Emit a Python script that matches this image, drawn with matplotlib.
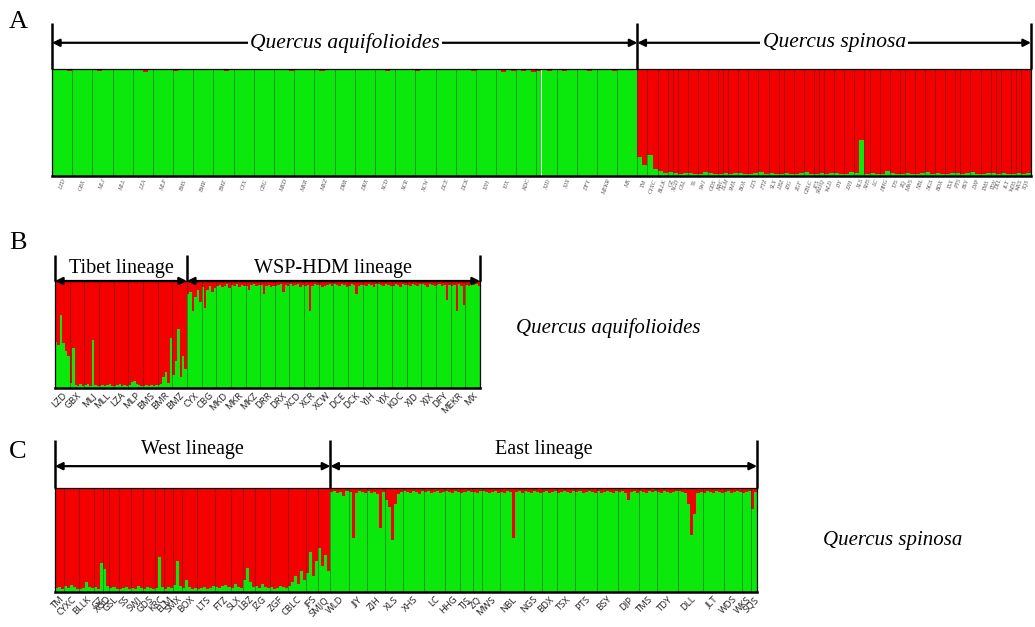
import matplotlib

matplotlib.use("Agg")
import matplotlib.pyplot as plt
import numpy as np

GREEN = "#0be80b"
RED = "#f40000"
SERIF = "Liberation Serif"

# ---- panel B: Quercus aquifolioides, red fraction (top) per individual ----
B_POPS = ["LZD", "GBX", "MLJ", "MLL", "LZA", "MLP", "BMS", "BMR", "BMZ",
          "CYX", "CBG", "MKD", "MKR", "MKZ", "DRR", "DRX", "XCD", "XCR", "XCW",
          "DCE", "DCK", "YJH", "YJX", "KDC", "XJD", "XJX", "DFY", "MEKR", "MX"]
B_GROUPS = ["Tibet lineage", "WSP-HDM lineage"]
B_GROUP_SIZES = [9, 20]
B_RED = [
    [0.57, 0.60, 0.32, 0.58, 0.65, 0.70],
    [0.95, 0.63, 0.97, 0.98, 0.96, 0.98],
    [0.97, 0.96, 0.98, 0.55, 0.97, 0.98],
    [0.98, 0.97, 0.98, 0.97, 0.96, 0.98],
    [0.98, 0.97, 0.96, 0.98, 0.97, 0.98],
    [0.97, 0.94, 0.93, 0.96, 0.97, 0.98],
    [0.98, 0.97, 0.98, 0.97, 0.98, 0.97],
    [0.97, 0.96, 0.90, 0.85, 0.95, 0.53],
    [0.88, 0.75, 0.45, 0.90, 0.70, 0.82],
    [0.12, 0.10, 0.28, 0.15, 0.08, 0.20],
    [0.06, 0.25, 0.08, 0.05, 0.10, 0.07],
    [0.05, 0.04, 0.06, 0.05, 0.03, 0.07],
    [0.04, 0.05, 0.03, 0.06, 0.04, 0.05],
    [0.05, 0.08, 0.04, 0.03, 0.05, 0.04],
    [0.04, 0.12, 0.05, 0.04, 0.06, 0.05],
    [0.05, 0.04, 0.03, 0.10, 0.04, 0.05],
    [0.03, 0.05, 0.04, 0.03, 0.06, 0.04],
    [0.05, 0.04, 0.28, 0.05, 0.03, 0.04],
    [0.04, 0.06, 0.05, 0.04, 0.03, 0.05],
    [0.03, 0.04, 0.05, 0.03, 0.04, 0.06],
    [0.05, 0.03, 0.04, 0.12, 0.05, 0.04],
    [0.04, 0.05, 0.03, 0.04, 0.06, 0.03],
    [0.03, 0.04, 0.05, 0.03, 0.04, 0.05],
    [0.05, 0.03, 0.04, 0.06, 0.03, 0.04],
    [0.04, 0.05, 0.03, 0.04, 0.05, 0.03],
    [0.03, 0.04, 0.06, 0.03, 0.04, 0.05],
    [0.04, 0.03, 0.05, 0.04, 0.18, 0.04],
    [0.05, 0.04, 0.28, 0.03, 0.05, 0.22],
    [0.04, 0.05, 0.03, 0.04, 0.03, 0.05],
]

# ---- panel C: Quercus spinosa ----
C_POPS = ["TM", "CYXC", "BLLK", "GZ", "XGD", "GSL", "SS", "SWJ", "GDS", "KRC",
          "ELM", "SMX", "BOX", "LTS", "FTZ", "SLX", "LBZ", "JZG", "ZGF", "CBLC",
          "JFS", "SMJQ",
          "WLD", "JJY", "ZJH", "XLS", "XHS", "LC", "HHG", "TJS", "ZQ", "MWS",
          "NBL", "NGS", "BDX", "TSX", "PTS", "BSY", "DJP", "TMS", "TDY", "DLL",
          "JLT", "WDS", "WKS", "SQS"]
C_GROUPS = ["West lineage", "East lineage"]
C_GROUP_SIZES = [22, 24]
C_RED = [
    [0.96, 0.95, 0.97],
    [0.94, 0.96, 0.93, 0.95, 0.97],
    [0.97, 0.96, 0.90, 0.95, 0.96],
    [0.95, 0.97, 0.72],
    [0.78, 0.94],
    [0.96, 0.95, 0.97],
    [0.97, 0.96, 0.95, 0.97],
    [0.96, 0.97, 0.94, 0.96],
    [0.97, 0.95, 0.96, 0.97],
    [0.96, 0.66, 0.95],
    [0.97, 0.95, 0.96],
    [0.93, 0.70, 0.94],
    [0.96, 0.88, 0.95, 0.97, 0.96],
    [0.97, 0.96, 0.95, 0.97, 0.96, 0.94],
    [0.95, 0.96, 0.94, 0.93, 0.95],
    [0.96, 0.92, 0.95, 0.96],
    [0.88, 0.77, 0.90, 0.95],
    [0.94, 0.96, 0.92, 0.95, 0.96],
    [0.95, 0.97, 0.96, 0.94, 0.95, 0.96],
    [0.94, 0.90, 0.85, 0.92, 0.80, 0.88],
    [0.82, 0.62, 0.85, 0.70],
    [0.58, 0.75, 0.64, 0.80],
    [0.04, 0.03, 0.05, 0.04, 0.08, 0.03],
    [0.04, 0.48, 0.05, 0.03, 0.04, 0.05],
    [0.03, 0.05, 0.04, 0.06, 0.38, 0.04],
    [0.12, 0.18, 0.50, 0.15, 0.06, 0.04],
    [0.03, 0.04, 0.05, 0.03, 0.04, 0.06, 0.03],
    [0.04, 0.03, 0.05, 0.04, 0.03, 0.05, 0.04],
    [0.03, 0.04, 0.05, 0.03, 0.04],
    [0.05, 0.04, 0.03, 0.04],
    [0.04, 0.05, 0.03],
    [0.03, 0.04, 0.05, 0.04, 0.03, 0.05],
    [0.04, 0.05, 0.03, 0.04, 0.48, 0.04, 0.03, 0.05],
    [0.03, 0.04, 0.05, 0.03, 0.04, 0.05],
    [0.04, 0.03, 0.05, 0.04, 0.03],
    [0.05, 0.04, 0.03, 0.04, 0.05, 0.03],
    [0.04, 0.03, 0.05, 0.04, 0.03, 0.04, 0.05],
    [0.03, 0.05, 0.04, 0.03, 0.04, 0.05, 0.03],
    [0.04, 0.03, 0.05, 0.12, 0.04, 0.03, 0.05],
    [0.03, 0.04, 0.05, 0.03, 0.04, 0.03],
    [0.04, 0.05, 0.03, 0.04, 0.05, 0.04, 0.03],
    [0.03, 0.04, 0.05, 0.15, 0.45, 0.25, 0.05, 0.04],
    [0.05, 0.03, 0.04, 0.05, 0.03, 0.04, 0.05],
    [0.04, 0.03, 0.05, 0.04, 0.03, 0.04],
    [0.05, 0.04, 0.03],
    [0.20, 0.04],
]

# ---- panel A: both species together (K=2) ----
A_POPS = B_POPS + C_POPS
A_GROUPS = ["Quercus aquifolioides", "Quercus spinosa"]
A_GROUP_SIZES = [len(B_POPS), len(C_POPS)]
A_RED = [
    # Q. aquifolioides
    [0.00, 0.01, 0.00, 0.02], [0.01, 0.00, 0.00, 0.01], [0.00, 0.02, 0.01, 0.00],
    [0.01, 0.00, 0.00, 0.00], [0.00, 0.01, 0.03, 0.00], [0.00, 0.00, 0.01, 0.00],
    [0.02, 0.00, 0.00, 0.01], [0.00, 0.01, 0.00, 0.00], [0.00, 0.00, 0.02, 0.00],
    [0.01, 0.00, 0.00, 0.01], [0.00, 0.01, 0.00, 0.00], [0.00, 0.00, 0.01, 0.02],
    [0.01, 0.00, 0.00, 0.00], [0.00, 0.02, 0.00, 0.01], [0.00, 0.00, 0.01, 0.00],
    [0.01, 0.00, 0.00, 0.00], [0.00, 0.01, 0.02, 0.00], [0.00, 0.00, 0.00, 0.01],
    [0.02, 0.01, 0.00, 0.00], [0.00, 0.00, 0.01, 0.00], [0.01, 0.00, 0.00, 0.02],
    [0.00, 0.01, 0.00, 0.00], [0.00, 0.03, 0.01, 0.02], [0.01, 0.02, 0.00, 0.03],
    [0.02, 0.01, 0.02, 0.00], [0.00, 0.02, 0.01, 0.00], [0.01, 0.00, 0.02, 0.01],
    [0.00, 0.01, 0.00, 0.02], [0.01, 0.00, 0.01, 0.00],
    # Q. spinosa
    [0.82, 0.90], [0.80, 0.93], [0.95, 0.97], [0.96], [0.97], [0.98, 0.97],
    [0.97, 0.98], [0.98, 0.96], [0.97, 0.98], [0.98], [0.97], [0.98, 0.97],
    [0.97, 0.98], [0.98, 0.97], [0.96, 0.98], [0.97, 0.98], [0.98], [0.97, 0.98],
    [0.98, 0.97], [0.96, 0.98], [0.98], [0.97], [0.98, 0.97], [0.97, 0.98],
    [0.98, 0.96], [0.97, 0.66], [0.98], [0.97, 0.98], [0.98, 0.95], [0.97, 0.98],
    [0.98], [0.97, 0.98], [0.98, 0.97], [0.96, 0.98], [0.97, 0.98], [0.98, 0.97],
    [0.97], [0.98, 0.97], [0.96, 0.98], [0.98, 0.97], [0.97], [0.98],
    [0.97, 0.98], [0.98], [0.97], [0.98, 0.97],
]


def draw_structure(ax, pops, red_lists, tick_kw):
    red = np.concatenate([np.asarray(r) for r in red_lists])
    n = len(red)
    x = np.arange(n)
    ax.bar(x, 1 - red, width=1, align="edge", color=GREEN, linewidth=0,
           antialiased=False)
    ax.bar(x, red, bottom=1 - red, width=1, align="edge", color=RED,
           linewidth=0, antialiased=False)

    edges = np.cumsum([0] + [len(r) for r in red_lists])
    ax.vlines(edges[1:-1], 0, 1, colors="#222222", linewidth=0.5, alpha=0.55)

    ax.set_xlim(0, n)
    ax.set_ylim(0, 1)
    ax.set_yticks([])
    ax.set_xticks((edges[:-1] + edges[1:]) / 2)
    ax.set_xticklabels(pops, **tick_kw)
    ax.tick_params(axis="x", length=0, pad=2)
    for side in ("top", "left", "right"):
        ax.spines[side].set_linewidth(0.9)
    ax.spines["bottom"].set_linewidth(1.8)
    return edges


def draw_groups(ax, edges, group_sizes, names, *, arrow_y, bar_top, text_y,
                text_on_arrow, fontsize, italic):
    trans = ax.get_xaxis_transform()
    bounds = np.cumsum([0] + group_sizes)
    xs = edges[bounds]
    for xv in xs:
        ax.plot([xv, xv], [1.0, bar_top], transform=trans, color="black",
                linewidth=1.8, clip_on=False, solid_capstyle="butt")
    for i, name in enumerate(names):
        x0, x1 = xs[i], xs[i + 1]
        ax.annotate("", xy=(x0, arrow_y), xytext=(x1, arrow_y),
                    xycoords=trans, textcoords=trans,
                    arrowprops=dict(arrowstyle="<|-|>", color="black", lw=1.6,
                                    mutation_scale=11, shrinkA=0, shrinkB=0))
        kw = dict(transform=trans, ha="center", va="center", fontsize=fontsize,
                  family=SERIF, style="italic" if italic else "normal")
        if text_on_arrow:
            kw["bbox"] = dict(facecolor="white", edgecolor="none", pad=1.5)
        ax.text((x0 + x1) / 2, text_y, name, **kw)


fig = plt.figure(figsize=(10.35, 6.27), dpi=100)
W, H = 1035, 627


def px_axes(x0, y0, x1, y1):
    return fig.add_axes([x0 / W, 1 - y1 / H, (x1 - x0) / W, (y1 - y0) / H])


ax_a = px_axes(52, 69, 1031, 176)
ax_b = px_axes(55, 281, 480, 388)
ax_c = px_axes(55, 488, 757, 592)

edges_a = draw_structure(
    ax_a, A_POPS, A_RED,
    dict(rotation=70, ha="right", rotation_mode="anchor", fontsize=4.2,
         color="#555555", style="italic", family=SERIF))
draw_groups(ax_a, edges_a, A_GROUP_SIZES, A_GROUPS, arrow_y=1.245,
            bar_top=1.43, text_y=1.245, text_on_arrow=True, fontsize=15.5,
            italic=True)

sans_ticks = dict(rotation=45, ha="right", rotation_mode="anchor", fontsize=6.8,
                  family="Open Sans", color="#222222")
edges_b = draw_structure(ax_b, B_POPS, B_RED, sans_ticks)
draw_groups(ax_b, edges_b, B_GROUP_SIZES, B_GROUPS, arrow_y=1.0,
            bar_top=1.24, text_y=1.12, text_on_arrow=False, fontsize=14.5,
            italic=False)

edges_c = draw_structure(ax_c, C_POPS, C_RED, sans_ticks)
draw_groups(ax_c, edges_c, C_GROUP_SIZES, C_GROUPS, arrow_y=1.21,
            bar_top=1.46, text_y=1.37, text_on_arrow=False, fontsize=14.5,
            italic=False)

for letter, (lx, ly) in zip("ABC", [(18, 22), (18, 243), (18, 452)]):
    fig.text(lx / W, 1 - ly / H, letter, ha="center", va="center",
             fontsize=19, family=SERIF)

fig.text(608 / W, 1 - 328 / H, "Quercus aquifolioides", ha="center",
         va="center", fontsize=15, family=SERIF, style="italic")
fig.text(893 / W, 1 - 540 / H, "Quercus spinosa", ha="center", va="center",
         fontsize=15, family=SERIF, style="italic")

fig.savefig("out.png", dpi=100)
plt.close(fig)
